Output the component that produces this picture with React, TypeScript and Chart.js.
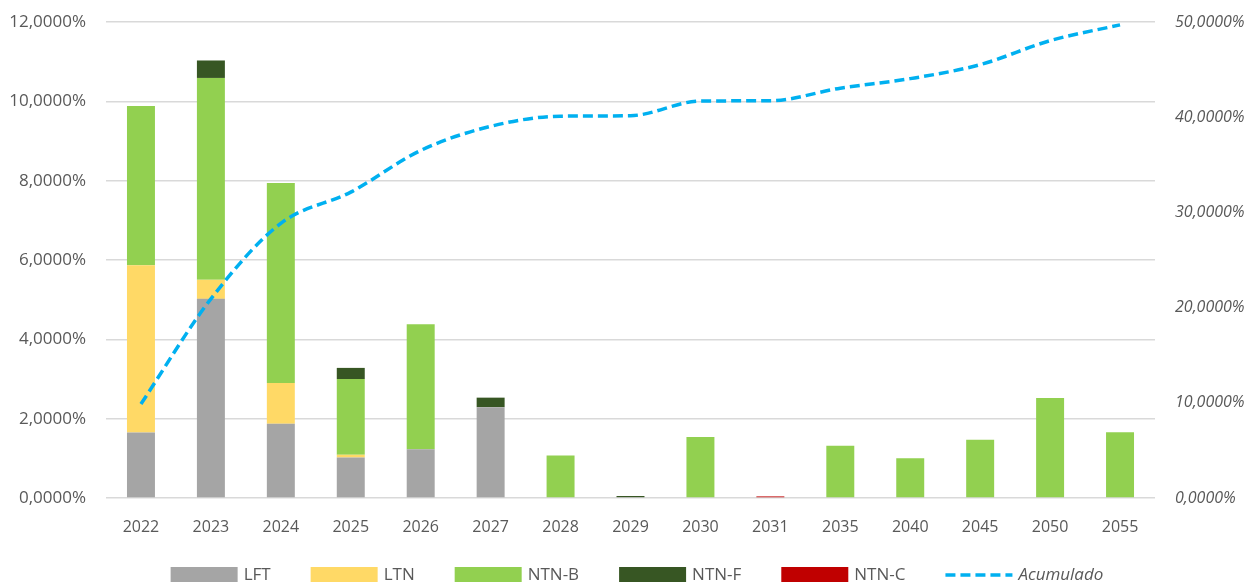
import React, { useEffect, useRef } from "react";
import { Chart, registerables } from "chart.js";

Chart.register(...registerables);

const categories = ["2022", "2023", "2024", "2025", "2026", "2027", "2028", "2029", "2030", "2031", "2035", "2040", "2045", "2050", "2055"];
const lft = [1.65, 5.02, 1.87, 1.02, 1.23, 2.29, 0, 0.02, 0, 0, 0, 0, 0, 0, 0];
const ltn = [4.22, 0.48, 1.03, 0.07, 0, 0, 0, 0, 0, 0, 0, 0, 0, 0, 0];
const ntnb = [4.01, 5.09, 5.04, 1.91, 3.15, 0, 1.07, 0, 1.54, 0, 1.32, 1.0, 1.47, 2.52, 1.66];
const ntnf = [0, 0.44, 0, 0.28, 0, 0.24, 0, 0.03, 0, 0, 0, 0, 0, 0, 0];
const ntnc = [0, 0, 0, 0, 0, 0, 0, 0, 0, 0.04, 0, 0, 0, 0, 0];
const acumulado = [9.88, 20.91, 28.85, 32.13, 36.51, 39.04, 40.11, 40.16, 41.7, 41.73, 43.05, 44.05, 45.52, 48.04, 49.7];

const leftTicks = [0, 2, 4, 6, 8, 10, 12];
const rightTicks = [0, 10, 20, 30, 40, 50];

const FONT = "'Open Sans', 'Noto Sans', sans-serif";
const TEXT = "#595959";
const LINE_COLOR = "#00B0F0";
const DASH = [10, 5];

const fmt = (v: number) => v.toFixed(4).replace(".", ",") + "%";

const legendPlugin = {
  id: "customLegend",
  afterDraw(chart: any) {
    const ctx = chart.ctx;
    const items = chart.data.datasets.map((d: any) => ({
      label: d.label,
      color: d.type === "line" ? d.borderColor : d.backgroundColor,
      line: d.type === "line",
    }));
    const boxW = 67;
    const gapText = 6;
    const gapItem = 40;
    ctx.save();
    const widths = items.map((it: any) => {
      ctx.font = (it.line ? "italic " : "") + "17px " + FONT;
      return boxW + gapText + ctx.measureText(it.label).width;
    });
    const total = widths.reduce((a: number, b: number) => a + b, 0) + gapItem * (items.length - 1);
    let x = 637 - total / 2;
    const yMid = 575;
    items.forEach((it: any, i: number) => {
      if (it.line) {
        ctx.strokeStyle = it.color;
        ctx.lineWidth = 3.5;
        ctx.setLineDash(DASH);
        ctx.beginPath();
        ctx.moveTo(x, yMid);
        ctx.lineTo(x + boxW, yMid);
        ctx.stroke();
        ctx.setLineDash([]);
      } else {
        ctx.fillStyle = it.color;
        ctx.fillRect(x, yMid - 8, boxW, 16);
      }
      ctx.font = (it.line ? "italic " : "") + "17px " + FONT;
      ctx.fillStyle = TEXT;
      ctx.textBaseline = "middle";
      ctx.textAlign = "left";
      ctx.fillText(it.label, x + boxW + gapText, yMid);
      x += widths[i] + gapItem;
    });
    ctx.restore();
  },
};

export default function App() {
  const ref = useRef<HTMLCanvasElement | null>(null);
  useEffect(() => {
    document.body.style.margin = "0";
    document.body.style.overflow = "hidden";
    const canvas = ref.current!;
    const barBase = { type: "bar" as const, yAxisID: "y", stack: "s", order: 1, barPercentage: 0.4, categoryPercentage: 1, borderWidth: 0 };
    const chart = new Chart(canvas, {
      type: "bar",
      data: {
        labels: categories,
        datasets: [
          { ...barBase, label: "LFT", data: lft, backgroundColor: "#A5A5A5" },
          { ...barBase, label: "LTN", data: ltn, backgroundColor: "#FFD966" },
          { ...barBase, label: "NTN-B", data: ntnb, backgroundColor: "#92D050" },
          { ...barBase, label: "NTN-F", data: ntnf, backgroundColor: "#375623" },
          { ...barBase, label: "NTN-C", data: ntnc, backgroundColor: "#C00000" },
          {
            type: "line",
            label: "Acumulado",
            data: acumulado,
            yAxisID: "y1",
            order: 0,
            borderColor: LINE_COLOR,
            backgroundColor: LINE_COLOR,
            borderWidth: 3.5,
            borderDash: DASH,
            pointRadius: 0,
            cubicInterpolationMode: "monotone",
            fill: false,
          } as any,
        ],
      },
      options: {
        responsive: false,
        animation: false,
        devicePixelRatio: 1,
        layout: { padding: { top: 22, bottom: 0, left: 0, right: 0 } },
        plugins: { legend: { display: false }, tooltip: { enabled: false } },
        scales: {
          x: {
            stacked: true,
            grid: { display: false },
            border: { display: false },
            ticks: { color: TEXT, font: { family: FONT, size: 16 }, padding: 12 },
            afterFit: (s: any) => { s.height = 84; },
          },
          y: {
            stacked: true,
            position: "left",
            min: 0,
            max: 12,
            afterBuildTicks: (s: any) => { s.ticks = leftTicks.map((v) => ({ value: v })); },
            ticks: { color: TEXT, font: { family: FONT, size: 17 }, padding: 20, callback: (v: any) => fmt(Number(v)) },
            grid: { color: "#D9D9D9", lineWidth: 1.5, drawTicks: false },
            border: { display: false },
            afterFit: (s: any) => { s.width = 106; s.paddingTop = 0; s.paddingBottom = 0; },
          },
          y1: {
            stacked: false,
            position: "right",
            min: 0,
            max: 50,
            afterBuildTicks: (s: any) => { s.ticks = rightTicks.map((v) => ({ value: v })); },
            ticks: { color: TEXT, font: { family: FONT, size: 16, style: "italic" }, padding: 20, callback: (v: any) => fmt(Number(v)) },
            grid: { drawOnChartArea: false, drawTicks: false },
            border: { display: false },
            afterFit: (s: any) => { s.width = 100; s.paddingTop = 0; s.paddingBottom = 0; },
          },
        },
      } as any,
      plugins: [legendPlugin],
    });
    return () => chart.destroy();
  }, []);
  return (
    <div style={{ width: 1255, height: 582 }}>
      <canvas ref={ref} width={1255} height={582} style={{ display: "block" }} />
    </div>
  );
}
